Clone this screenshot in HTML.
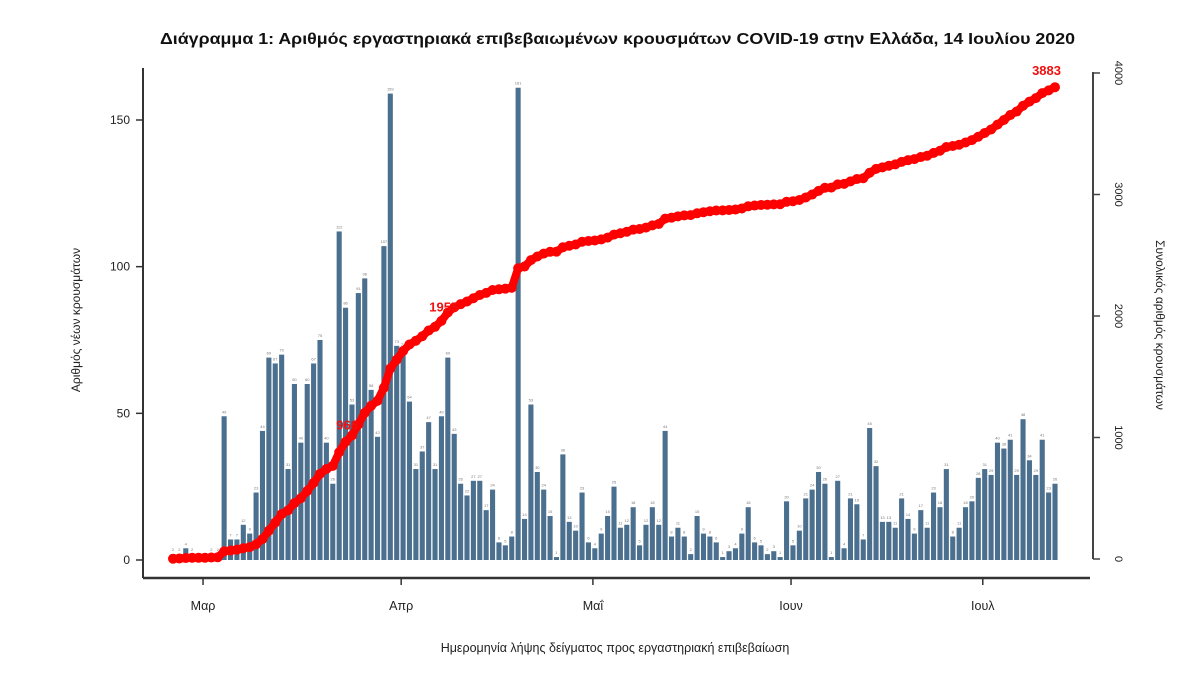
<!DOCTYPE html>
<html><head><meta charset="utf-8">
<style>
body{margin:0;background:#fff;}
svg{display:block;font-family:"Liberation Sans","DejaVu Sans",sans-serif;}
</style></head>
<body>
<svg id="chart" width="1200" height="692" viewBox="0 0 1200 692" xmlns="http://www.w3.org/2000/svg">
<text x="160" y="44" textLength="915" lengthAdjust="spacingAndGlyphs" font-size="16" font-weight="bold" fill="#111">Διάγραμμα 1: Αριθμός εργαστηριακά επιβεβαιωμένων κρουσμάτων COVID-19 στην Ελλάδα, 14 Ιουλίου 2020</text>
<g id="bars"></g>
<g id="line"></g>
<g id="axes"></g>
<text transform="translate(80,320) rotate(-90)" text-anchor="middle" font-size="12" fill="#222">Αριθμός νέων κρουσμάτων</text>
<text transform="translate(1156,325) rotate(90)" text-anchor="middle" font-size="12" fill="#222">Συνολικός αριθμός κρουσμάτων</text>
<text x="615" y="652" text-anchor="middle" font-size="12.5" fill="#222">Ημερομηνία λήψης δείγματος προς εργαστηριακή επιβεβαίωση</text>
</svg>
<script>
const dailyCases = [2,2,4,2,0,0,2,2,49,7,7,12,9,23,44,69,67,70,31,60,40,60,67,75,40,26,112,86,53,91,96,58,42,107,159,73,72,54,31,37,47,31,
49,69,43,26,22,27,27,17,24,6,5,8,161,14,53,30,24,15,1,36,13,10,23,6,4,9,15,25,11,12,18,5,12,18,12,44,8,11,8,2,15,9,8,6,
1,3,4,9,18,6,5,2,3,1,20,5,10,21,24,30,26,1,27,4,21,19,7,45,32,13,13,11,21,14,9,17,11,23,18,31,8,11,18,20,28,31,29,40,38,41,29,48,34,29,41,23,26];
const leftTicks = [0,50,100,150];
const rightTicks = [0,1000,2000,3000,4000];
const monthLabels = ["Μαρ","Απρ","Μαΐ","Ιουν","Ιουλ"];
const monthStartIndex = [4.7,35.7,65.7,96.7,126.7];
const annotatedTotals = ["966","1955","3883"];
const annotatedIndex = [28,44,dailyCases.length-1];

const NS="http://www.w3.org/2000/svg";
const n=dailyCases.length;
const x0=173, x1=1055;
const xs=i=>x0+i*(x1-x0)/(n-1);
const yL=v=>560-v*(440/150);
const yR=v=>559-v*(486/4000);
function mk(tag,attrs,parent){const e=document.createElementNS(NS,tag);for(const k in attrs)e.setAttribute(k,attrs[k]);parent.appendChild(e);return e;}
const gb=document.getElementById('bars'), gl=document.getElementById('line'), ga=document.getElementById('axes');
const bw=(x1-x0)/(n-1)-1.3;
dailyCases.forEach((v,i)=>{
  const r=mk('rect',{x:xs(i)-bw/2,y:yL(v),width:bw,height:560-yL(v),fill:'#4b6f8e'},gb);
  
  
  const t=mk('text',{x:xs(i),y:yL(v)-3,'text-anchor':'middle','font-size':4,fill:'#777'},gb);
  
  
  t.textContent=v;
});
let cum=[],s=0;dailyCases.forEach(v=>{s+=v;cum.push(s);});
const scale=3883/s;
const cumAdj=cum.map(c=>c*scale);
const pts=cumAdj.map((c,i)=>xs(i)+','+yR(c)).join(' ');
const pl=mk('polyline',{points:pts,fill:'none',stroke:'#f00','stroke-width':8,'stroke-linejoin':'round'},gl);


cumAdj.forEach((c,i)=>{
  const d=mk('circle',{cx:xs(i),cy:yR(c),r:5,fill:'#f00'},gl);
  
  
});
const labelDy=[-6,4,-12];
annotatedTotals.forEach((lab,k)=>{
  const i=annotatedIndex[k];
  const last=k===2;
  const t=mk('text',{x:last?xs(i)+6:xs(i)+(k===0?6:4),y:yR(cumAdj[i])+labelDy[k],'text-anchor':'end','font-size':13,'font-weight':'bold',fill:'#f01010'},gl);
  
  
  t.textContent=lab;
});
mk('line',{x1:143,y1:68,x2:143,y2:578,stroke:'#333','stroke-width':2},ga);
mk('line',{x1:143,y1:578,x2:1090,y2:578,stroke:'#333','stroke-width':2.5},ga);
mk('line',{x1:1093,y1:72,x2:1093,y2:559,stroke:'#444','stroke-width':2},ga);
leftTicks.forEach(v=>{
  mk('line',{x1:136,y1:yL(v),x2:143,y2:yL(v),stroke:'#333','stroke-width':1.5},ga);
  const t=mk('text',{x:130,y:yL(v)+4,'text-anchor':'end','font-size':12,fill:'#222'},ga);
  
  
  t.textContent=v;
});
rightTicks.forEach(v=>{
  mk('line',{x1:1093,y1:yR(v),x2:1100,y2:yR(v),stroke:'#444','stroke-width':1.5},ga);
  const t=mk('text',{transform:`translate(1115,${yR(v)}) rotate(90)`,'text-anchor':'middle','font-size':11,fill:'#222'},ga);
  
  
  t.textContent=v;
});
monthLabels.forEach((m,k)=>{
  const x=xs(monthStartIndex[k]);
  mk('line',{x1:x,y1:578,x2:x,y2:585,stroke:'#333','stroke-width':1.5},ga);
  const t=mk('text',{x:x,y:610,'text-anchor':'middle','font-size':12.5,fill:'#222'},ga);
  
  
  t.textContent=m;
});
</script>
</body></html>
